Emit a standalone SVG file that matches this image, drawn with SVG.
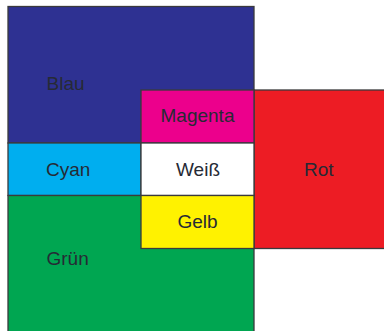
<svg xmlns="http://www.w3.org/2000/svg" width="384" height="331" viewBox="0 0 384 331">
<style>
.b{stroke:#3a3a3c;stroke-width:1.3}
text{font-family:"Liberation Sans",Arial,sans-serif;font-size:19px;fill:#262a35}
.c{text-anchor:middle}
</style>
<rect x="0" y="0" width="384" height="331" fill="#fff"/>
<g id="blau"><rect class="b" x="8" y="6.5" width="246" height="136.5" fill="#2e3192"/><text x="46.5" y="89.5">Blau</text></g>
<g id="cyan"><rect class="b" x="8" y="143" width="133" height="52.5" fill="#00aeef"/><text x="46" y="176">Cyan</text></g>
<g id="gruen"><rect class="b" x="8" y="195.5" width="246" height="140" fill="#00a651"/><text x="46.5" y="265">Grün</text></g>
<g id="rot"><rect class="b" x="254" y="90" width="140" height="158.5" fill="#ed1c24"/><text class="c" x="318.7" y="176">Rot</text></g>
<g id="magenta"><rect class="b" x="141" y="90" width="113" height="53" fill="#ec008c"/><text class="c" x="197.5" y="121.7">Magenta</text></g>
<g id="weiss"><rect class="b" x="141" y="143" width="113" height="52.5" fill="#ffffff"/><text class="c" x="198" y="175.5">Weiß</text></g>
<g id="gelb"><rect class="b" x="141" y="195.5" width="113" height="53" fill="#fff200"/><text class="c" x="197.5" y="227.5">Gelb</text></g>
<g id="connectors"></g>
</svg>
